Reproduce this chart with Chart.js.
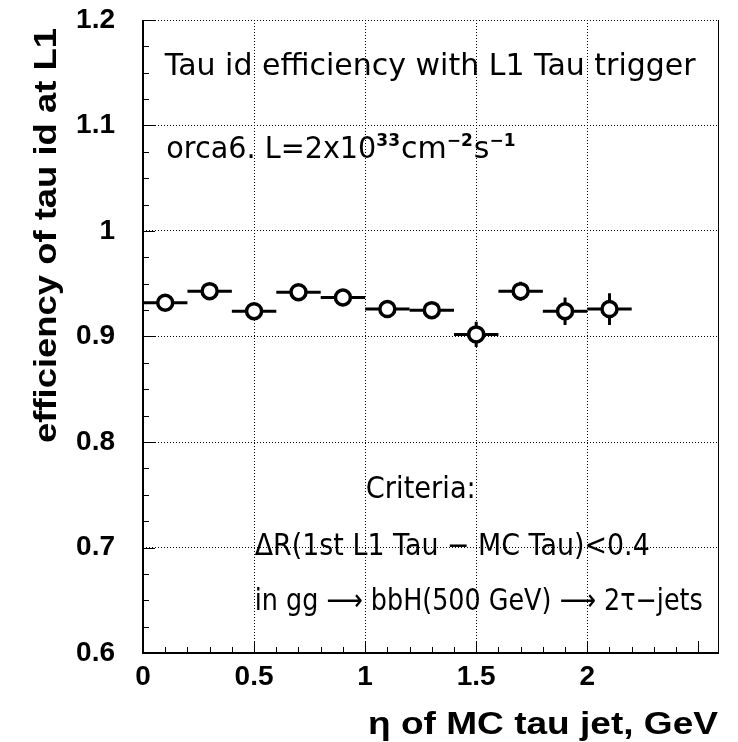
<!DOCTYPE html>
<html>
<head>
<meta charset="utf-8">
<script src="https://cdn.jsdelivr.net/npm/chart.js@4.4.1/dist/chart.umd.min.js"></script>
<style>
  html, body { margin: 0; padding: 0; background: #fff; }
  canvas { display: block; }
</style>
</head>
<body>
<canvas id="eff" width="738" height="742"></canvas>
<script>
// Values: eta bin centres, half widths, efficiency and errors
const etaBins = [0.1, 0.3, 0.5, 0.7, 0.9, 1.1, 1.3, 1.5, 1.7, 1.9, 2.1]
const etaHalfWidth = [0.1, 0.1, 0.1, 0.1, 0.1, 0.1, 0.1, 0.1, 0.1, 0.1, 0.1]
const efficiency = [0.932, 0.943, 0.924, 0.942, 0.937, 0.926, 0.925, 0.902, 0.943, 0.924, 0.926]
const effError = [0.005, 0.005, 0.006, 0.005, 0.006, 0.006, 0.006, 0.012, 0.009, 0.013, 0.015]

const xTickLabels = ['0', '0.5', '1', '1.5', '2', '2.5']
const yTickLabels = ['0.6', '0.7', '0.8', '0.9', '1', '1.1', '1.2']

const xTitle = 'η of MC tau jet, GeV'
const yTitle = 'efficiency of tau id at L1'

// Text boxes inside the frame, placed in data units
const notes = [
  { text: 'Tau id efficiency with L1 Tau trigger', x: 0.098, y: 1.148, maxWidth: 551 },
  { text: 'Criteria:', x: 1.003, y: 0.747, maxWidth: 110 },
  { text: 'ΔR(1st L1 Tau − MC Tau)<0.4', x: 0.503, y: 0.693, maxWidth: 395 },
  { text: 'in gg ⟶ bbH(500 GeV) ⟶ 2τ−jets', x: 0.503, y: 0.641, maxWidth: 448 }
]
// luminosity line, pieces with superscripts
const lumiPieces = [
  { text: 'orca6. L=2x10', sup: false, maxWidth: 210 },
  { text: '33', sup: true },
  { text: 'cm', sup: false },
  { text: '−2', sup: true },
  { text: 's', sup: false },
  { text: '−1', sup: true }
]
const lumiPos = { x: 0.105, y: 1.069 }

const helv = '"Liberation Sans", Arial, sans-serif'
const noteFont = '30px "DejaVu Sans"'
const supFont = 'bold 17px "DejaVu Sans"'
const titleFont = 'bold 31px ' + helv

// draw text stretched along its own direction to a target length
function stretchedText (ctx, text, len) {
  const w = ctx.measureText(text).width
  ctx.scale(len / w, 1)
  ctx.fillText(text, 0, 0)
}

// ROOT-like frame, minor ticks, error bars and texts
const rootStyle = {
  id: 'rootStyle',
  beforeDatasetsDraw (chart) {
    const { ctx, scales: { x, y } } = chart
    ctx.save()
    ctx.strokeStyle = '#000'
    ctx.lineWidth = 3
    for (let i = 0; i < etaBins.length; i++) {
      const px = x.getPixelForValue(etaBins[i])
      const py = y.getPixelForValue(efficiency[i])
      ctx.beginPath()
      ctx.moveTo(x.getPixelForValue(etaBins[i] - etaHalfWidth[i]), py)
      ctx.lineTo(x.getPixelForValue(etaBins[i] + etaHalfWidth[i]), py)
      ctx.moveTo(px, y.getPixelForValue(efficiency[i] - effError[i]))
      ctx.lineTo(px, y.getPixelForValue(efficiency[i] + effError[i]))
      ctx.stroke()
    }
    ctx.restore()
  },
  afterDraw (chart) {
    const { ctx, chartArea: a, scales: { x, y } } = chart
    ctx.save()
    ctx.fillStyle = '#000'
    ctx.strokeStyle = '#000'

    // frame (top edge is the dotted 1.2 grid line)
    ctx.fillRect(a.left - 1, a.top, 2, a.bottom - a.top + 1)
    ctx.fillRect(a.left - 1, a.bottom - 1, a.right - a.left + 1, 2)
    ctx.fillRect(a.right - 1, a.top, 1, a.bottom - a.top)

    // inward ticks
    ctx.lineWidth = 1
    ctx.beginPath()
    for (let k = 0; k <= 24; k++) {
      const py = Math.round(y.getPixelForValue(0.6 + k * 0.025)) + 0.5
      const len = k % 4 === 0 ? 12 : 6
      ctx.moveTo(a.left, py)
      ctx.lineTo(a.left + len, py)
    }
    for (let k = 0; k <= 25; k++) {
      const px = Math.round(x.getPixelForValue(k * 0.1)) + 0.5
      const len = k % 5 === 0 ? 12 : 6
      ctx.moveTo(px, a.bottom)
      ctx.lineTo(px, a.bottom - len)
    }
    ctx.stroke()

    // axis titles, stretched like ROOT's bold Helvetica
    ctx.font = titleFont
    ctx.textBaseline = 'alphabetic'
    ctx.textAlign = 'right'
    ctx.save()
    ctx.translate(718, 734)
    stretchedText(ctx, xTitle, 350)
    ctx.restore()

    ctx.save()
    ctx.translate(56, 28)
    ctx.rotate(-Math.PI / 2)
    stretchedText(ctx, yTitle, 415)
    ctx.restore()

    // annotations
    ctx.textAlign = 'left'
    ctx.font = noteFont
    notes.forEach(n => {
      ctx.fillText(n.text, x.getPixelForValue(n.x), y.getPixelForValue(n.y), n.maxWidth)
    })

    let lx = x.getPixelForValue(lumiPos.x)
    const ly = y.getPixelForValue(lumiPos.y)
    lumiPieces.forEach(p => {
      ctx.font = p.sup ? supFont : noteFont
      const w = Math.min(ctx.measureText(p.text).width, p.maxWidth || Infinity)
      ctx.fillText(p.text, lx, p.sup ? ly - 12 : ly, w)
      lx += w + (p.sup ? 1 : 0)
    })
    ctx.restore()
  }
}

const tickFont = { family: helv, size: 28, weight: 'bold' }

new Chart(document.getElementById('eff'), {
  type: 'scatter',
  data: {
    datasets: [{
      data: etaBins.map((v, i) => ({ x: v, y: efficiency[i] })),
      pointStyle: 'circle',
      pointRadius: 7.5,
      pointHoverRadius: 7.5,
      borderWidth: 3.5,
      borderColor: '#000',
      backgroundColor: '#fff'
    }]
  },
  options: {
    responsive: false,
    animation: false,
    layout: { padding: { top: 20, right: 19, left: 0, bottom: 0 } },
    plugins: { legend: { display: false }, tooltip: { enabled: false } },
    scales: {
      x: {
        type: 'linear',
        min: 0,
        max: 2.593,
        afterBuildTicks: s => { s.ticks = s.ticks.filter(t => Math.abs(t.value / 0.5 - Math.round(t.value / 0.5)) < 1e-6) },
        afterFit: s => { s.height = 89; s.paddingLeft = 0; s.paddingRight = 0 },
        ticks: {
          stepSize: 0.5,
          color: '#000',
          font: tickFont,
          padding: 7,
          maxRotation: 0,
          autoSkip: false,
          callback: (v, i) => xTickLabels[i]
        },
        grid: { color: '#000', lineWidth: 1, drawTicks: false },
        border: { display: false, dash: [1, 2] }
      },
      y: {
        type: 'linear',
        min: 0.6,
        max: 1.2,
        afterFit: s => { s.width = 143; s.paddingTop = 0; s.paddingBottom = 0 },
        ticks: {
          stepSize: 0.1,
          color: '#000',
          font: tickFont,
          padding: 28,
          autoSkip: false,
          callback: (v, i) => yTickLabels[i]
        },
        grid: { color: '#000', lineWidth: 1, drawTicks: false },
        border: { display: false, dash: [1, 2] }
      }
    }
  },
  plugins: [rootStyle]
})
</script>
</body>
</html>
